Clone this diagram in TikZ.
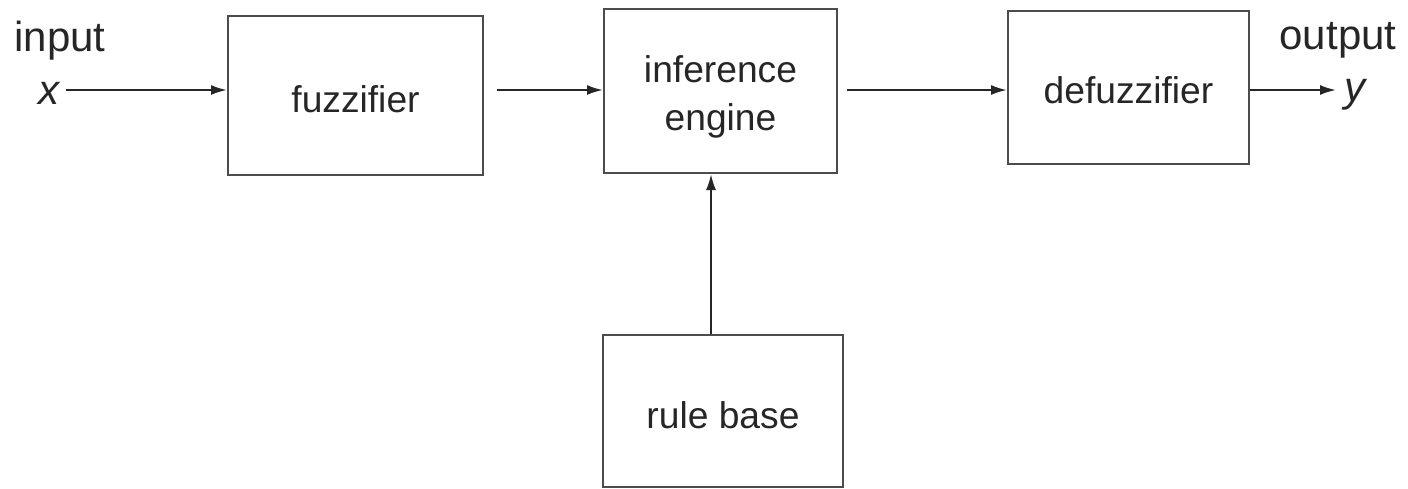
\documentclass[tikz,border=0pt]{standalone}
\usepackage{fontspec}
\setmainfont{Liberation Sans}
\usetikzlibrary{arrows.meta}

\begin{document}
\begin{tikzpicture}[x=0.5pt,y=-0.5pt,
    block/.style={draw=black!70,line width=1pt,inner sep=0pt,
      text=black!85,text height=17pt,text depth=0pt,font=\fontsize{18.6}{24}\selectfont},
    lbl/.style={inner sep=0pt,text=black!85,font=\fontsize{21}{24}\selectfont},
    sig/.style={line width=1pt,draw=black!85,-{Latex[length=8pt,width=5pt]}}]

\useasboundingbox (0,0) rectangle (1408,488);
\coordinate (sig) at (0,90);
\coordinate (feed) at (711,0);

	% blocks
	\node[block,minimum width=127.5pt,minimum height=79.5pt] (fuzz) at (355.5,95.5) {fuzzifier};
	\node[block,align=center,text height=43pt,text depth=4pt,minimum width=116.5pt,minimum height=82pt] (inf) at (720.5,91) {inference\\engine};
	\node[block,text height=15.5pt,minimum width=120.5pt,minimum height=76.5pt] (defuzz) at (1128.5,87.5) {defuzzifier};
	\node[block,minimum width=120pt,minimum height=76pt] (rule) at (723,411) {rule base};

	% input and output
	\node[lbl] (inlbl) at (60,41) {input};
	\node[lbl] (xin) at (50,93) {\textit{x}};
	\node[lbl] (outlbl) at (1338,40) {output};
	\node[lbl] (yout) at (1356,95) {\textit{y}};

	% signals
	\draw[sig,shorten <=2pt] (xin.east |- sig) -- (fuzz.west |- sig);
	\draw[sig,shorten <=6.5pt] (fuzz.east |- sig) -- (inf.west |- sig);
	\draw[sig,shorten <=4.5pt] (inf.east |- sig) -- (defuzz.west |- sig);
	\draw[sig,shorten >=4pt] (defuzz.east |- sig) -- (yout.west |- sig);
	\draw[sig] (rule.north -| feed) -- (inf.south -| feed);

\end{tikzpicture}
\end{document}
